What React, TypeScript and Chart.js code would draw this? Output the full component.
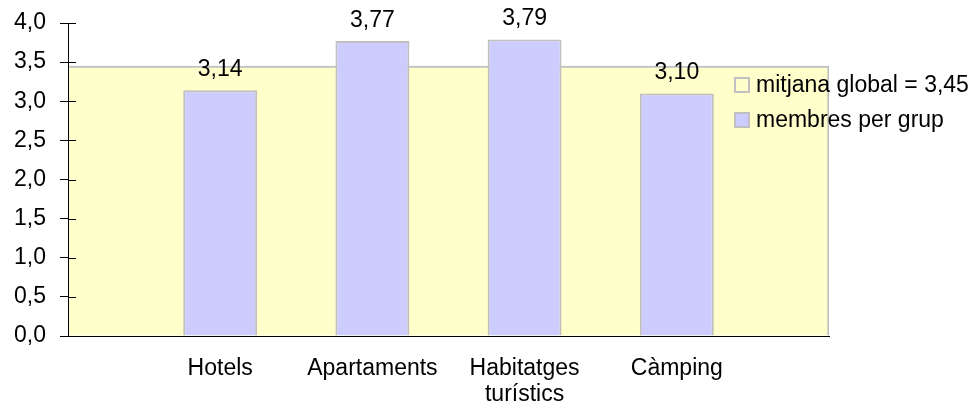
import React, { useEffect, useRef } from "react";
import { Chart, registerables } from "chart.js";

Chart.register(...registerables);

const categories: (string | string[])[] = ["Hotels", "Apartaments", ["Habitatges", "turístics"], "Càmping"];
const membresPerGrup = [3.14, 3.77, 3.79, 3.1];
const mitjanaGlobal = 3.45;
const seriesLabels = ["mitjana global = 3,45", "membres per grup"];
const yMin = 0;
const yMax = 4;
const yStep = 0.5;

const FONT = "'Liberation Sans', Arial, sans-serif";
const FS = 23;
const fmt = (v: number, d: number) => v.toFixed(d).replace(".", ",");

const extrasPlugin = {
  id: "extras",
  afterDatasetsDraw(chart: any) {
    const ctx = chart.ctx;
    const meta = chart.getDatasetMeta(1);
    ctx.save();
    ctx.font = `${FS}px ${FONT}`;
    ctx.fillStyle = "#000";
    ctx.textAlign = "center";
    ctx.textBaseline = "alphabetic";
    meta.data.forEach((el: any, i: number) => {
      const v = chart.data.datasets[1].data[i];
      if (v == null) return;
      ctx.fillText(fmt(v, 2), el.x, el.y - 14);
    });
    ctx.restore();
  },
  afterDraw(chart: any) {
    const ctx = chart.ctx;
    const ys = chart.scales.y;
    ctx.save();
    ctx.strokeStyle = "#000";
    ctx.lineWidth = 1;
    ys.ticks.forEach((t: any) => {
      const py = Math.round(ys.getPixelForValue(t.value)) + 0.5;
      ctx.beginPath();
      ctx.moveTo(ys.right, py);
      ctx.lineTo(ys.right + 8, py);
      ctx.stroke();
    });
    // legend
    const lx = 734;
    const rows = [85, 120];
    ctx.font = `${FS}px ${FONT}`;
    ctx.textAlign = "left";
    ctx.textBaseline = "middle";
    chart.data.datasets.forEach((ds: any, i: number) => {
      const cy = rows[i];
      ctx.fillStyle = ds.backgroundColor;
      ctx.fillRect(lx, cy - 8, 16, 16);
      ctx.strokeStyle = "#C0C0C0";
      ctx.lineWidth = 2;
      ctx.strokeRect(lx + 1, cy - 7, 14, 14);
      ctx.fillStyle = "#000";
      ctx.fillText(ds.label, lx + 22, cy + 1);
    });
    ctx.restore();
  },
};

export default function App() {
  const ref = useRef<HTMLCanvasElement | null>(null);
  useEffect(() => {
    if (!ref.current) return;
    const labels = ["", ...categories, ""];
    const chart = new Chart(ref.current, {
      type: "bar",
      data: {
        labels,
        datasets: [
          {
            label: seriesLabels[0],
            data: [mitjanaGlobal],
            xAxisID: "x2",
            backgroundColor: "#FFFFCC",
            borderColor: "#C0C0C0",
            borderWidth: { top: 2, right: 2, left: 0, bottom: 0 },
            borderSkipped: false,
            grouped: false,
            barPercentage: 1,
            categoryPercentage: 1,
            order: 2,
          },
          {
            label: seriesLabels[1],
            data: [null, ...membresPerGrup, null],
            xAxisID: "x",
            backgroundColor: "#CCCCFF",
            borderColor: "#C0C0C0",
            borderWidth: 2,
            grouped: false,
            barPercentage: 0.486,
            categoryPercentage: 1,
            order: 1,
          },
        ],
      } as any,
      plugins: [extrasPlugin],
      options: {
        animation: false,
        responsive: true,
        maintainAspectRatio: false,
        layout: { padding: { top: 23, right: 151, left: 0, bottom: 0 } },
        plugins: { legend: { display: false }, tooltip: { enabled: false } },
        scales: {
          x: {
            type: "category",
            offset: false,
            grid: { display: false, drawTicks: false },
            border: { display: true, color: "#000", width: 1, z: 1 },
            ticks: {
              color: "#000",
              font: { family: FONT, size: FS, lineHeight: 1.15 },
              padding: 19,
              maxRotation: 0,
              autoSkip: false,
            },
            afterFit: (s: any) => {
              s.height = 73;
              s.paddingLeft = 0;
              s.paddingRight = 0;
              s.paddingTop = 0;
              s.paddingBottom = 0;
            },
          },
          x2: {
            type: "category",
            labels: ["all"],
            offset: true,
            display: false,
          },
          y: {
            min: yMin,
            max: yMax,
            grid: { display: true, drawOnChartArea: false, drawTicks: true, tickLength: 8, color: "#000", z: 1 },
            border: { display: true, color: "#000", width: 1, z: 1 },
            ticks: {
              stepSize: yStep,
              color: "#000",
              padding: 14,
              font: { family: FONT, size: FS },
              callback: (v: any) => fmt(Number(v), 1),
            },
            afterFit: (s: any) => {
              s.width = 68;
              s.paddingTop = 0;
              s.paddingBottom = 0;
              s.paddingLeft = 0;
              s.paddingRight = 0;
            },
          },
        },
      } as any,
    });
    return () => chart.destroy();
  }, []);
  return (
    <div style={{ position: "absolute", left: 0, top: 0, width: 980, height: 409, background: "#fff" }}>
      <canvas ref={ref} />
    </div>
  );
}
